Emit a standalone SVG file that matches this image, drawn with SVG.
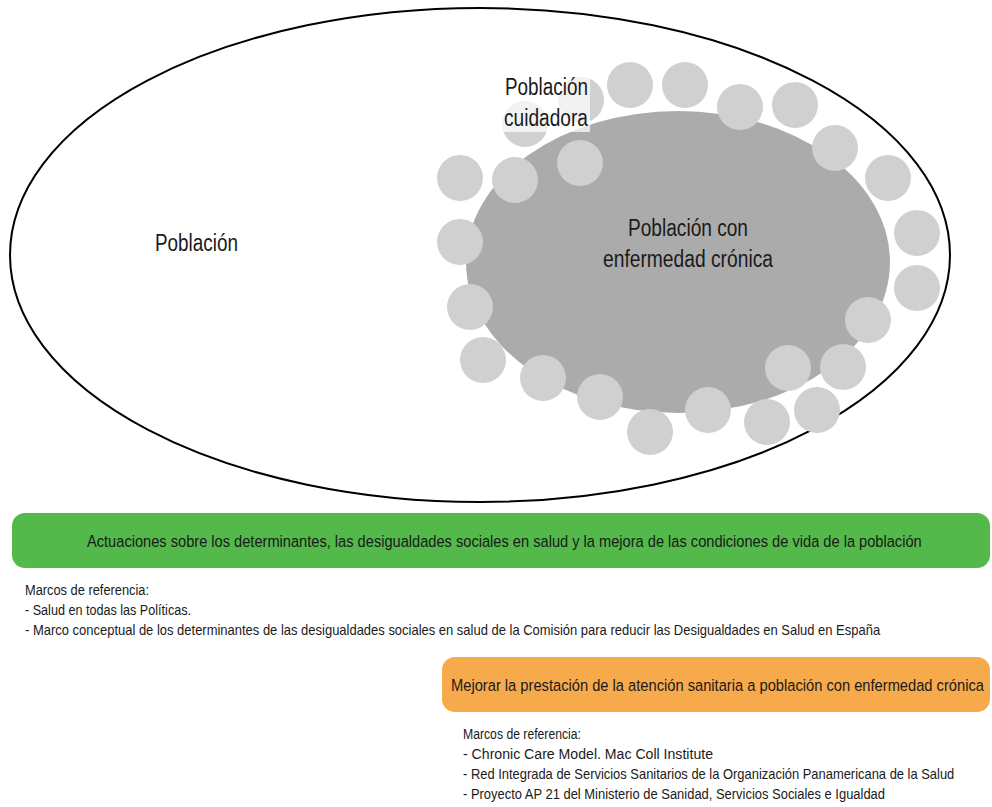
<svg xmlns="http://www.w3.org/2000/svg" width="992" height="807" viewBox="0 0 992 807">
<style>
  .t { font-family: "Liberation Sans Narrow", "Liberation Sans", Arial, sans-serif; fill: #1a1a1a; }
  .big { font-size: 23px; }
  .bar { font-size: 17px; }
  .ref { font-size: 14px; }
  .dot { fill: #d0d0d0; }
</style>
<rect width="992" height="807" fill="#ffffff"/>
<g id="poblacion">
  <ellipse cx="480" cy="255" rx="470" ry="247" fill="#ffffff" stroke="#000000" stroke-width="2"/>
  <text class="t big" x="155" y="251" textLength="83" lengthAdjust="spacingAndGlyphs">Población</text>
</g>
<g id="enfermedad-cronica">
  <ellipse cx="678" cy="262" rx="212" ry="151" fill="#ababab"/>
</g>
<g id="poblacion-cuidadora">
  <circle class="dot" cx="525" cy="124" r="23"/>
  <circle class="dot" cx="581" cy="100" r="23"/>
  <circle class="dot" cx="630" cy="85" r="23"/>
  <circle class="dot" cx="685" cy="85" r="23"/>
  <circle class="dot" cx="740" cy="107" r="23"/>
  <circle class="dot" cx="795" cy="105" r="23"/>
  <circle class="dot" cx="835" cy="148" r="23"/>
  <circle class="dot" cx="888" cy="178" r="23"/>
  <circle class="dot" cx="917" cy="233" r="23"/>
  <circle class="dot" cx="917" cy="288" r="23"/>
  <circle class="dot" cx="868" cy="320" r="23"/>
  <circle class="dot" cx="843" cy="367" r="23"/>
  <circle class="dot" cx="788" cy="368" r="23"/>
  <circle class="dot" cx="817" cy="410" r="23"/>
  <circle class="dot" cx="767" cy="422" r="23"/>
  <circle class="dot" cx="708" cy="410" r="23"/>
  <circle class="dot" cx="650" cy="432" r="23"/>
  <circle class="dot" cx="600" cy="397" r="23"/>
  <circle class="dot" cx="543" cy="378" r="23"/>
  <circle class="dot" cx="483" cy="360" r="23"/>
  <circle class="dot" cx="470" cy="307" r="23"/>
  <circle class="dot" cx="460" cy="242" r="23"/>
  <circle class="dot" cx="460" cy="178" r="23"/>
  <circle class="dot" cx="515" cy="180" r="23"/>
  <circle class="dot" cx="580" cy="163" r="23"/>
  <rect x="500" y="72" width="90" height="60" fill="#ffffff" opacity="0.72"/>
  <text class="t big" x="505" y="95" textLength="83" lengthAdjust="spacingAndGlyphs">Población</text>
  <text class="t big" x="504" y="126" textLength="84" lengthAdjust="spacingAndGlyphs">cuidadora</text>
</g>
<g id="enfermedad-cronica-label">
  <text class="t big" x="628" y="236" textLength="120" lengthAdjust="spacingAndGlyphs">Población con</text>
  <text class="t big" x="603" y="267" textLength="170" lengthAdjust="spacingAndGlyphs">enfermedad crónica</text>
</g>
<g id="actuaciones">
  <rect x="12" y="513" width="978" height="55" rx="13" ry="13" fill="#52b94a"/>
  <text class="t bar" transform="translate(87,547) scale(0.85,1)" x="0" y="0" textLength="982" lengthAdjust="spacingAndGlyphs">Actuaciones sobre los determinantes, las desigualdades sociales en salud y la mejora de las condiciones de vida de la población</text>
</g>
<g id="marcos-actuaciones">
  <text class="t ref" x="25" y="595" textLength="124" lengthAdjust="spacingAndGlyphs">Marcos de referencia:</text>
  <text class="t ref" x="25" y="615" textLength="166" lengthAdjust="spacingAndGlyphs">- Salud en todas las Políticas.</text>
  <text class="t ref" transform="translate(25,635) scale(0.85,1)" x="0" y="0" textLength="1006" lengthAdjust="spacingAndGlyphs">- Marco conceptual de los determinantes de las desigualdades sociales en salud de la Comisión para reducir las Desigualdades en Salud en España</text>
</g>
<g id="mejorar">
  <rect x="442" y="657" width="548" height="55" rx="13" ry="13" fill="#f6aa4c"/>
  <text class="t bar" transform="translate(451,691) scale(0.85,1)" x="0" y="0" textLength="627" lengthAdjust="spacingAndGlyphs">Mejorar la prestación de la atención sanitaria a población con enfermedad crónica</text>
</g>
<g id="marcos-mejorar">
  <text class="t ref" x="463" y="739" textLength="118" lengthAdjust="spacingAndGlyphs">Marcos de referencia:</text>
  <text class="t ref" x="463" y="759" textLength="250" lengthAdjust="spacingAndGlyphs">- Chronic Care Model. Mac Coll Institute</text>
  <text class="t ref" transform="translate(463,779) scale(0.85,1)" x="0" y="0" textLength="578" lengthAdjust="spacingAndGlyphs">- Red Integrada de Servicios Sanitarios de la Organización Panamericana de la Salud</text>
  <text class="t ref" x="463" y="799" textLength="422" lengthAdjust="spacingAndGlyphs">- Proyecto AP 21 del Ministerio de Sanidad, Servicios Sociales e Igualdad</text>
</g>
<g id="connectors"></g>
</svg>
